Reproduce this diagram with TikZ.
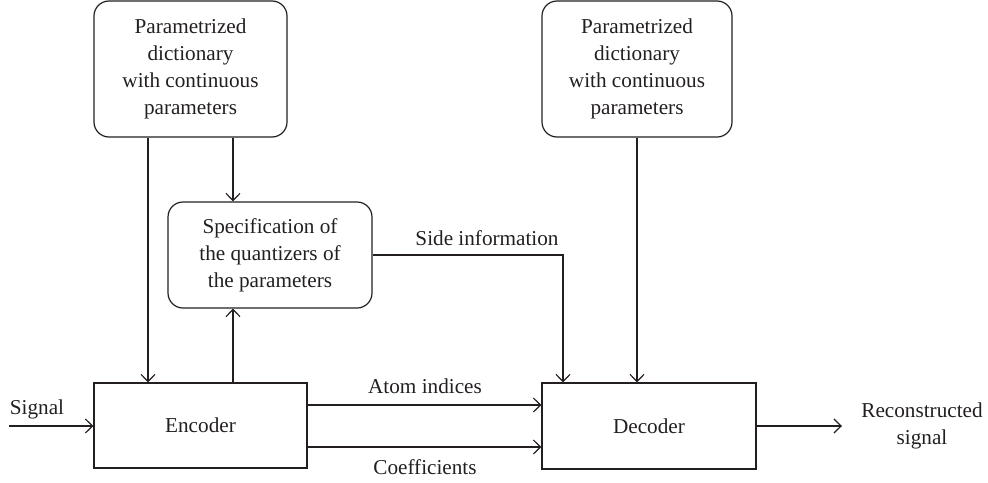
\documentclass[tikz,border=0pt]{standalone}
\usepackage{fontspec}
\setmainfont{Liberation Serif}
\usetikzlibrary{arrows.meta}
\definecolor{ink}{HTML}{231F20}
\begin{document}
\begin{tikzpicture}[x=0.5pt,y=-0.5pt,
  every node/.style={text=ink,font=\fontsize{10.6}{13.6}\selectfont},
  rbox/.style={draw=ink,line width=0.6pt,rounded corners=7.5pt,align=center,inner sep=0pt},
  sbox/.style={draw=ink,line width=0.6pt,align=center,inner sep=0pt},
  arr/.style={draw=ink,line width=0.6pt,-{Straight Barb[length=3.6pt,width=7pt]}},
  ln/.style={draw=ink,line width=0.6pt}]
\useasboundingbox (0,0) rectangle (988,482);
\node[rbox,minimum width=96.5pt,minimum height=68pt] (dict1) at (190.5,69) {Parametrized\\dictionary\\with continuous\\parameters};
\node[rbox,minimum width=95pt,minimum height=68pt] (dict2) at (637,69) {Parametrized\\dictionary\\with continuous\\parameters};
\node[rbox,minimum width=102pt,minimum height=53pt] (spec) at (270,255) {Specification of\\the quantizers of\\the parameters};
\node[sbox,minimum width=106.5pt,minimum height=42.5pt] (enc) at (200.5,425.5) {Encoder};
\node[sbox,minimum width=107pt,minimum height=43pt] (dec) at (649,426) {Decoder};
\coordinate (sig) at (9,426);
\coordinate (out) at (842,426);
\coordinate (corner) at (563,255);
% connectors
\draw[arr] (dict1.south -| 148,0) -- (enc.north -| 148,0);
\draw[arr] (dict1.south -| 233,0) -- (spec.north -| 233,0);
\draw[arr] (enc.north -| 233,0) -- (spec.south -| 233,0);
\draw[arr] (spec.east |- corner) -- (corner) -- (dec.north -| corner);
\draw[arr] (dict2.south) -- (dec.north -| dict2.south);
\draw[arr] (sig) -- (enc.west |- sig);
\draw[arr] (enc.east |- 0,405) -- (dec.west |- 0,405);
\draw[arr] (enc.east |- 0,447) -- (dec.west |- 0,447);
\draw[arr] (dec.east |- out) -- (out);
% labels
\node (lsig) at (37,409) {Signal};
\node (lside) at (487,238) {Side information};
\node (latom) at (425,386) {Atom indices};
\node (lcoef) at (425,467) {Coefficients};
\node[align=center] (lrec) at (922,426) {Reconstructed\\signal};
\end{tikzpicture}
\end{document}
